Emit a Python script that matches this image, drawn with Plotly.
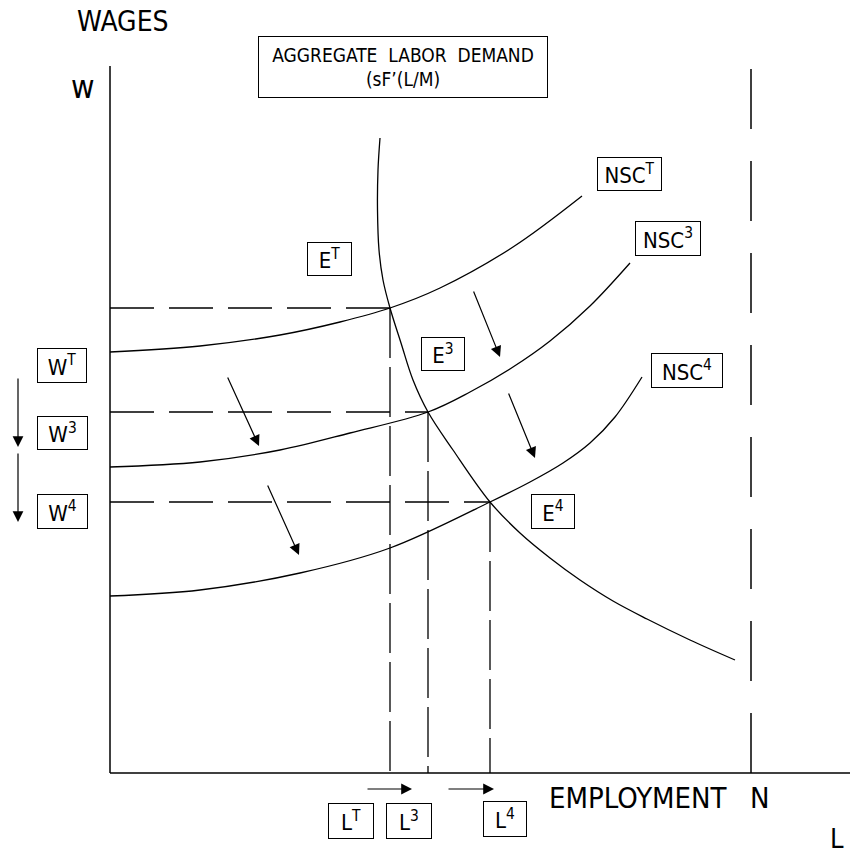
import plotly.graph_objects as go

# labour demand and the three notional supply curves (L = employment, w = wage)
demand_L = [270, 268, 267.5, 269, 273, 280, 291, 303, 318, 343, 380, 410, 440, 470, 503, 537, 580, 625]
demand_w = [635, 603, 563, 523, 493, 465, 430, 393, 361, 323, 271, 240, 215, 193, 172, 154, 133, 113]

nsc_t_L = [0, 90, 170, 230, 280, 330, 403, 472]
nsc_t_w = [421, 427, 438, 451, 465, 485, 526, 577]

nsc_3_L = [0, 90, 170, 240, 318, 360, 403, 440, 480, 520]
nsc_3_w = [306, 311, 323, 340, 361, 381, 406, 432, 467, 510]

nsc_4_L = [0, 90, 190, 280, 380, 420, 453, 480, 505, 532]
nsc_4_w = [177, 183, 200, 225, 271, 291, 310, 330, 356, 396]

# equilibria E^T, E^3, E^4
eq_L = [280, 318, 380]
eq_w = [465, 361, 271]

full_employment_N = 641
axis_top_w = 707
axis_right_L = 740

FONT = "Liberation Sans Narrow, DejaVu Sans Condensed, Arial Narrow, sans-serif"
BLACK = "#000000"

fig = go.Figure()

# axes
fig.add_trace(go.Scatter(x=[0, 0], y=[0, axis_top_w], mode="lines",
                         line=dict(color=BLACK, width=1.5), hoverinfo="skip"))
fig.add_trace(go.Scatter(x=[0, axis_right_L], y=[0, 0], mode="lines",
                         line=dict(color=BLACK, width=1.5), hoverinfo="skip"))

# full employment N
fig.add_trace(go.Scatter(x=[full_employment_N, full_employment_N], y=[0, 720], mode="lines",
                         line=dict(color=BLACK, width=1.5, dash="60px,32px"), hoverinfo="skip"))

# dashed guides from each equilibrium
for L, w in zip(eq_L, eq_w):
    fig.add_trace(go.Scatter(x=[0, L], y=[w, w], mode="lines",
                             line=dict(color=BLACK, width=1.3, dash="44px,15px"), hoverinfo="skip"))
    fig.add_trace(go.Scatter(x=[L, L], y=[w, 0], mode="lines",
                             line=dict(color=BLACK, width=1.3, dash="50px,9px"), hoverinfo="skip"))

# curves
for xs, ys in [(demand_L, demand_w), (nsc_t_L, nsc_t_w), (nsc_3_L, nsc_3_w), (nsc_4_L, nsc_4_w)]:
    fig.add_trace(go.Scatter(x=xs, y=ys, mode="lines",
                             line=dict(color=BLACK, width=1.3, shape="spline", smoothing=1.0),
                             hoverinfo="skip"))

# shift arrows: (tail L, tail w, head L, head w)
arrows = [
    (117, 397, 149, 327),
    (157, 289, 189, 218),
    (363, 483, 390, 416),
    (398, 381, 425, 315),
    (-92, 396, -92, 326),
    (-92, 321, -92, 251),
    (256, -16, 302, -16),
    (337, -16, 384, -16),
]
for tL, tw, hL, hw in arrows:
    fig.add_annotation(x=hL, y=hw, ax=tL, ay=tw, xref="x", yref="y", axref="x", ayref="y",
                       text="", showarrow=True, arrowhead=2, arrowsize=1.8,
                       arrowwidth=1.2, arrowcolor=BLACK)

# boxed labels: (text, L, w, width, height)
boxes = [
    ("W<sup>T</sup>", -48, 408, 48, 33),
    ("W<sup>3</sup>", -48, 340, 49, 32),
    ("W<sup>4</sup>", -48, 262, 49, 33),
    ("E<sup>T</sup>", 219, 514, 43, 32),
    ("E<sup>3</sup>", 333, 419, 42, 32),
    ("E<sup>4</sup>", 443, 262, 42, 33),
    ("NSC<sup>T</sup>", 519, 599, 63, 32),
    ("NSC<sup>3</sup>", 558, 535, 64, 33),
    ("NSC<sup>4</sup>", 577, 403, 70, 33),
    ("L<sup>T</sup>", 241, -48, 44, 34),
    ("L<sup>3</sup>", 299, -48, 44, 34),
    ("L<sup>4</sup>", 395, -46, 42, 34),
]
for text, L, w, bw, bh in boxes:
    fig.add_annotation(x=L, y=w, xref="x", yref="y", text=text, showarrow=False,
                       width=bw, height=bh, borderpad=0, bordercolor=BLACK, borderwidth=1,
                       bgcolor="white", font=dict(family=FONT, size=22, color=BLACK))

fig.add_annotation(x=293, y=706, xref="x", yref="y", showarrow=False,
                   text="AGGREGATE&nbsp; LABOR&nbsp; DEMAND<br>(sF’(L/M)",
                   width=288, height=60, borderpad=0, bordercolor=BLACK, borderwidth=1,
                   bgcolor="white", font=dict(family=FONT, size=19, color=BLACK))

# plain labels: (text, L, w, size)
labels = [
    ("WAGES", 13, 752, 28),
    ("w", -27, 686, 32),
    ("EMPLOYMENT", 528, -25, 29),
    ("N", 650, -25, 29),
    ("L", 727, -65, 27),
]
for text, L, w, size in labels:
    fig.add_annotation(x=L, y=w, xref="x", yref="y", text=text, showarrow=False,
                       font=dict(family=FONT, size=size, color=BLACK))

fig.update_layout(
    width=850, height=856,
    margin=dict(l=0, r=0, t=0, b=0),
    paper_bgcolor="white", plot_bgcolor="white",
    showlegend=False,
    xaxis=dict(range=[-110, 740], visible=False, fixedrange=True),
    yaxis=dict(range=[-83, 773], visible=False, fixedrange=True),
)

# drop the default page margin so the figure fills the window exactly
fig.write_html("out.html", config={"displayModeBar": False},
               post_script="document.body.style.margin='0';document.body.style.overflow='hidden';")
